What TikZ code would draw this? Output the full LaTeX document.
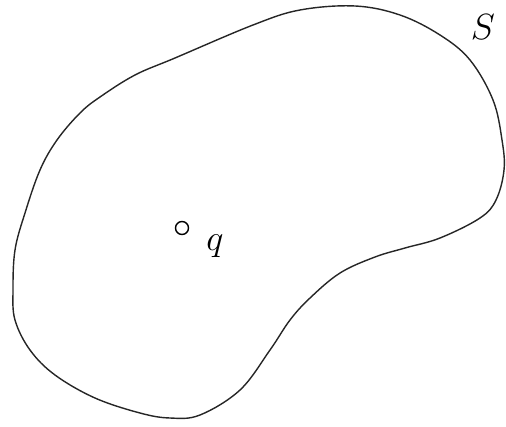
\documentclass[tikz,border=0pt]{standalone}
\usepackage{tikz}
\usetikzlibrary{positioning}

\begin{document}
\begin{tikzpicture}[x=0.02cm, y=-0.02cm,
    surface/.style={line width=0.8pt, black!85},
    charge/.style={draw, circle, inner sep=0pt, minimum size=0.26cm, line width=0.8pt},
    tag/.style={font=\huge, inner sep=0pt},
]
  \useasboundingbox (0,0) rectangle (506,426);

  % closed surface
  \draw[surface] plot[smooth cycle, tension=0.6] coordinates {
    (25,213) (40,170) (57,140) (80,113) (100,97) (135,75) (175,58) (253,25)
    (300,10) (355,6) (400,15) (440,35) (470,60) (493,100) (502,140)
    (504,170) (496,200) (480,218) (440,238) (405,248) (375,257) (340,273)
    (310,298) (290,320) (270,350) (240,390) (200,415) (170,418) (140,413)
    (95,398) (55,375) (30,350) (15,320) (13,290) (15,250)
  };

  \node[charge] (q) at (182,228) {};
  \node[tag] (qlabel) at (215,246) {$q$};
  \node[tag] (slabel) at (483,27) {$S$};
\end{tikzpicture}
\end{document}
